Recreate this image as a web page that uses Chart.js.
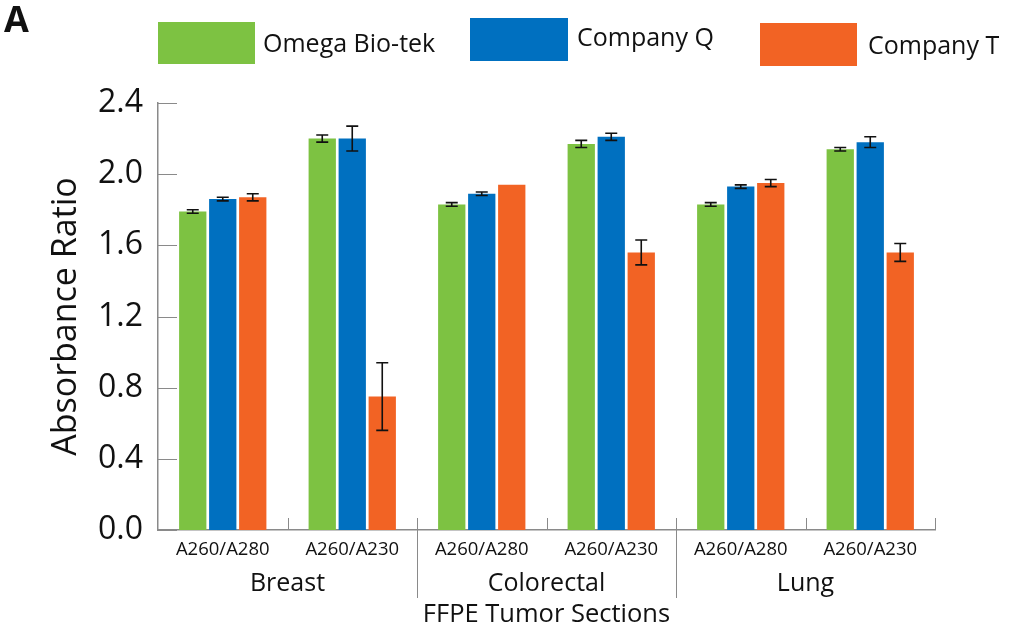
<!DOCTYPE html>
<html>
<head>
<meta charset="utf-8">
<script src="https://cdn.jsdelivr.net/npm/chart.js@4"></script>
<style>
  html, body { margin: 0; padding: 0; background: #fff; }
  #wrap { width: 1024px; height: 640px; }
</style>
</head>
<body>
<div id="wrap"><canvas id="chart" width="1024" height="640"></canvas></div>
<script>
// data
const categories = ['A260/A280', 'A260/A230', 'A260/A280', 'A260/A230', 'A260/A280', 'A260/A230'];
const groups = ['Breast', 'Colorectal', 'Lung'];
const seriesNames = ['Omega Bio-tek', 'Company Q', 'Company T'];

const omegaValues = [1.79, 2.20, 1.83, 2.17, 1.83, 2.14];
const omegaErrors = [0.01, 0.02, 0.01, 0.02, 0.01, 0.01];
const companyQValues = [1.86, 2.20, 1.89, 2.21, 1.93, 2.18];
const companyQErrors = [0.01, 0.07, 0.01, 0.02, 0.01, 0.03];
const companyTValues = [1.87, 0.75, 1.94, 1.56, 1.95, 1.56];
const companyTErrors = [0.02, 0.19, 0, 0.07, 0.02, 0.05];

const yTicks = [0, 0.4, 0.8, 1.2, 1.6, 2.0, 2.4];

const FONT = "'Open Sans', 'DejaVu Sans', sans-serif";
const AXIS_COLOR = '#8a8a8a';
const TEXT_COLOR = '#111';

// legend box placement (as in the figure, slightly staggered)
const legendLayout = [
    { x: 158, y: 22, w: 97, h: 42, tx: 263, ty: 45 },
    { x: 470, y: 18, w: 98, h: 43, tx: 577, ty: 39 },
    { x: 760, y: 23, w: 97, h: 43, tx: 868, ty: 47 }
];

const errorBars = {
    id: 'errorBars',
    afterDatasetsDraw(chart) {
        const ctx = chart.ctx;
        const y = chart.scales.y;
        ctx.save();
        ctx.strokeStyle = '#111';
        ctx.lineWidth = 1.6;
        chart.data.datasets.forEach((ds, di) => {
            const meta = chart.getDatasetMeta(di);
            meta.data.forEach((bar, i) => {
                const err = ds.errors[i];
                if (!err) return;
                const top = y.getPixelForValue(ds.data[i] + err);
                const bot = y.getPixelForValue(ds.data[i] - err);
                const cx = bar.x;
                ctx.beginPath();
                ctx.moveTo(cx, top); ctx.lineTo(cx, bot);
                ctx.moveTo(cx - 6, top); ctx.lineTo(cx + 6, top);
                ctx.moveTo(cx - 6, bot); ctx.lineTo(cx + 6, bot);
                ctx.stroke();
            });
        });
        ctx.restore();
    }
};

const decorations = {
    id: 'decorations',
    afterDraw(chart) {
        const ctx = chart.ctx;
        const x = chart.scales.x;
        const y = chart.scales.y;
        const area = chart.chartArea;
        ctx.save();

        // inward y ticks
        ctx.strokeStyle = AXIS_COLOR;
        ctx.lineWidth = 1;
        yTicks.forEach(v => {
            const py = Math.round(y.getPixelForValue(v)) + 0.5;
            ctx.beginPath();
            ctx.moveTo(area.left, py);
            ctx.lineTo(area.left + 19, py);
            ctx.stroke();
        });

        // category ticks and group separators
        const n = categories.length;
        const step = (area.right - area.left) / n;
        for (let i = 1; i <= n; i++) {
            const px = Math.round(area.left + step * i) + 0.5;
            const isSep = (i % 2 === 0) && i < n;
            ctx.beginPath();
            ctx.moveTo(px, area.bottom - 12);
            ctx.lineTo(px, isSep ? area.bottom + 68 : area.bottom);
            ctx.stroke();
        }

        // group labels
        ctx.fillStyle = TEXT_COLOR;
        ctx.textAlign = 'center';
        ctx.textBaseline = 'middle';
        ctx.font = '25px ' + FONT;
        groups.forEach((g, gi) => {
            const cx = (x.getPixelForValue(gi * 2) + x.getPixelForValue(gi * 2 + 1)) / 2;
            ctx.fillText(g, cx, 584);
        });

        // x axis title
        ctx.font = '25.5px ' + FONT;
        ctx.fillText('FFPE Tumor Sections', (area.left + area.right) / 2, 615);

        // panel letter
        ctx.textAlign = 'left';
        ctx.font = 'bold 36px ' + FONT;
        ctx.fillText('A', 4, 22);

        // legend
        ctx.font = '25px ' + FONT;
        chart.data.datasets.forEach((ds, di) => {
            const L = legendLayout[di];
            ctx.fillStyle = ds.backgroundColor;
            ctx.fillRect(L.x, L.y, L.w, L.h);
            ctx.fillStyle = TEXT_COLOR;
            ctx.fillText(ds.label, L.tx, L.ty);
        });

        ctx.restore();
    }
};

const ctx = document.getElementById('chart').getContext('2d');

new Chart(ctx, {
    type: 'bar',
    data: {
        labels: categories,
        datasets: [
            { label: seriesNames[0], data: omegaValues, errors: omegaErrors, backgroundColor: '#7dc242' },
            { label: seriesNames[1], data: companyQValues, errors: companyQErrors, backgroundColor: '#0070c0' },
            { label: seriesNames[2], data: companyTValues, errors: companyTErrors, backgroundColor: '#f26324' }
        ]
    },
    options: {
        responsive: false,
        animation: false,
        devicePixelRatio: 1,
        layout: { padding: { top: 103, right: 89, bottom: 0, left: 0 } },
        datasets: {
            bar: { categoryPercentage: 0.695, barPercentage: 0.91, borderWidth: 0 }
        },
        plugins: {
            legend: { display: false },
            tooltip: { enabled: false }
        },
        scales: {
            x: {
                grid: { display: false },
                border: { display: true, color: AXIS_COLOR, width: 1.5 },
                ticks: {
                    color: TEXT_COLOR,
                    font: { family: FONT, size: 18.5 },
                    padding: 1,
                    maxRotation: 0,
                    autoSkip: false
                },
                afterFit(scale) { scale.height = 110; }
            },
            y: {
                min: 0,
                max: 2.4,
                afterBuildTicks(scale) { scale.ticks = yTicks.map(v => ({ value: v })); },
                grid: { display: false },
                border: { display: true, color: AXIS_COLOR, width: 1.5 },
                ticks: {
                    color: TEXT_COLOR,
                    font: { family: FONT, size: 32 },
                    padding: 7,
                    callback: v => Number(v).toFixed(1)
                },
                title: {
                    display: true,
                    text: 'Absorbance Ratio',
                    color: TEXT_COLOR,
                    font: { family: FONT, size: 34 },
                    padding: { top: 46, bottom: 0 }
                },
                afterFit(scale) { scale.width = 158; }
            }
        }
    },
    plugins: [errorBars, decorations]
});
</script>
</body>
</html>
